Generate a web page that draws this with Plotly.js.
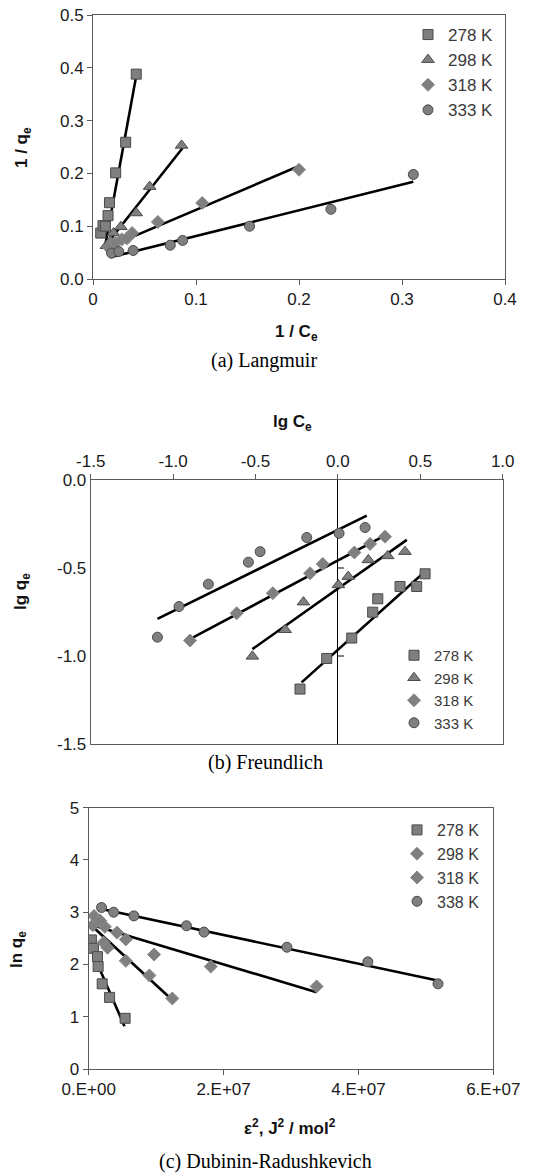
<!DOCTYPE html>
<html>
<head>
<meta charset="utf-8">
<script src="https://cdn.plot.ly/plotly-3.0.1.min.js"></script>
<style>
  html, body { margin: 0; padding: 0; background: #fff; }
  #chart { width: 538px; height: 1175px; }
</style>
</head>
<body>
<div id="chart"></div>
<script>
// ---------- series names ----------
const namesLF = ['278 K', '298 K', '318 K', '333 K'];
const namesDR = ['278 K', '298 K', '318 K', '338 K'];

// ---------- (a) Langmuir : 1/Ce vs 1/qe ----------
const lang278x = [0.0075, 0.0097, 0.012, 0.0146, 0.016, 0.022, 0.0317, 0.042];
const lang278y = [0.087, 0.101, 0.100, 0.120, 0.1445, 0.201, 0.259, 0.388];
const lang298x = [0.013, 0.017, 0.020, 0.027, 0.042, 0.055, 0.086];
const lang298y = [0.063, 0.072, 0.087, 0.099, 0.125, 0.175, 0.253];
const lang318x = [0.015, 0.022, 0.028, 0.033, 0.038, 0.063, 0.106, 0.200];
const lang318y = [0.060, 0.068, 0.075, 0.077, 0.087, 0.108, 0.144, 0.207];
const lang333x = [0.018, 0.025, 0.039, 0.075, 0.087, 0.152, 0.231, 0.311];
const lang333y = [0.049, 0.052, 0.054, 0.064, 0.073, 0.100, 0.132, 0.198];
// fitted lines (end points)
const langFit278x = [0.0113, 0.042], langFit278y = [0.058, 0.385];
const langFit298x = [0.0113, 0.087], langFit298y = [0.061, 0.248];
const langFit318x = [0.012, 0.200],  langFit318y = [0.058, 0.214];
const langFit333x = [0.0167, 0.311], langFit333y = [0.041, 0.184];

// ---------- (b) Freundlich : lg Ce vs lg qe ----------
const fr278x = [-0.23, -0.068, 0.084, 0.211, 0.242, 0.377, 0.478, 0.529];
const fr278y = [-1.188, -1.014, -0.898, -0.751, -0.675, -0.605, -0.605, -0.533];
const fr298x = [-0.519, -0.32, -0.209, 0.003, 0.063, 0.185, 0.302, 0.407];
const fr298y = [-1.002, -0.851, -0.694, -0.596, -0.549, -0.454, -0.431, -0.407];
const fr318x = [-0.897, -0.614, -0.395, -0.169, -0.092, 0.10, 0.195, 0.286];
const fr318y = [-0.912, -0.757, -0.643, -0.53, -0.477, -0.412, -0.363, -0.322];
const fr333x = [-1.095, -0.964, -0.786, -0.543, -0.472, -0.189, 0.007, 0.165];
const fr333y = [-0.893, -0.719, -0.592, -0.467, -0.407, -0.327, -0.303, -0.27];
const frFit278x = [-0.22, 0.529],  frFit278y = [-1.15, -0.52];
const frFit298x = [-0.519, 0.418], frFit298y = [-0.961, -0.34];
const frFit318x = [-0.907, 0.292], frFit318y = [-0.908, -0.312];
const frFit333x = [-1.095, 0.175], frFit333y = [-0.789, -0.202];
const frXTickVals = [-1.5, -1.0, -0.5, 0.0, 0.5, 1.0];
const frXTickText = ['-1.5', '-1.0', '-0.5', '0.0', '0.5', '1.0'];
const frYTickVals = [0.0, -0.5, -1.0, -1.5];
const frYTickText = ['0.0', '-0.5', '-1.0', '-1.5'];

// ---------- (c) Dubinin-Radushkevich : eps^2 vs ln qe ----------
const dr278x = [400000, 700000, 1300000, 1400000, 2000000, 3100000, 5400000];
const dr278y = [2.47, 2.31, 2.15, 1.96, 1.63, 1.37, 0.97];
const dr298x = [600000, 2200000, 2400000, 2800000, 5500000, 9000000, 12400000];
const dr298y = [2.75, 2.42, 2.72, 2.32, 2.07, 1.79, 1.35];
const dr318x = [800000, 1700000, 4200000, 5500000, 9700000, 18100000, 33800000];
const dr318y = [2.93, 2.84, 2.61, 2.48, 2.19, 1.96, 1.58];
const dr338x = [1900000, 3700000, 6700000, 14500000, 17100000, 29400000, 41400000, 51800000];
const dr338y = [3.09, 3.00, 2.93, 2.74, 2.62, 2.33, 2.05, 1.63];
const drFit278x = [200000, 5300000],  drFit278y = [2.34, 0.82];
const drFit298x = [200000, 12400000], drFit298y = [2.77, 1.32];
const drFit318x = [350000, 33800000], drFit318y = [2.76, 1.47];
const drFit338x = [1900000, 51900000], drFit338y = [3.06, 1.69];
const drXTickVals = [0, 20000000, 40000000, 60000000];
const drXTickText = ['0.E+00', '2.E+07', '4.E+07', '6.E+07'];

// ---------- styling ----------
const W = 538, H = 1175;
const FONT = 'Liberation Sans, Arial, sans-serif';
const SERIF = 'Liberation Serif, Times New Roman, serif';
const FILL = '#7f7f7f', EDGE = '#4a4a4a';
const px = v => v / W;
const py = v => 1 - v / H;

function pts(x, y, name, sym, size, xa, ya, leg, edge) {
  return {
    x: x, y: y, name: name, type: 'scatter', mode: 'markers',
    xaxis: xa, yaxis: ya, legend: leg,
    marker: { symbol: sym, size: size, color: FILL,
              line: { color: edge === undefined ? EDGE : edge, width: 1 } },
    hoverinfo: 'x+y'
  };
}
function fit(x, y, xa, ya) {
  return { x: x, y: y, type: 'scatter', mode: 'lines', xaxis: xa, yaxis: ya,
           showlegend: false, line: { color: '#000', width: 2.6 }, hoverinfo: 'skip' };
}

const traces = [
  // (a)
  fit(langFit278x, langFit278y, 'x', 'y'),
  fit(langFit298x, langFit298y, 'x', 'y'),
  fit(langFit318x, langFit318y, 'x', 'y'),
  fit(langFit333x, langFit333y, 'x', 'y'),
  pts(lang278x, lang278y, namesLF[0], 'square', 10, 'x', 'y', 'legend'),
  pts(lang298x, lang298y, namesLF[1], 'triangle-up', 11, 'x', 'y', 'legend'),
  pts(lang318x, lang318y, namesLF[2], 'diamond', 10, 'x', 'y', 'legend', '#8a8a8a'),
  pts(lang333x, lang333y, namesLF[3], 'circle', 10, 'x', 'y', 'legend'),
  // (b)
  fit(frFit278x, frFit278y, 'x2', 'y2'),
  fit(frFit298x, frFit298y, 'x2', 'y2'),
  fit(frFit318x, frFit318y, 'x2', 'y2'),
  fit(frFit333x, frFit333y, 'x2', 'y2'),
  pts(fr278x, fr278y, namesLF[0], 'square', 10, 'x2', 'y2', 'legend2'),
  pts(fr298x, fr298y, namesLF[1], 'triangle-up', 11, 'x2', 'y2', 'legend2'),
  pts(fr318x, fr318y, namesLF[2], 'diamond', 10, 'x2', 'y2', 'legend2', '#8a8a8a'),
  pts(fr333x, fr333y, namesLF[3], 'circle', 10, 'x2', 'y2', 'legend2'),
  // (c)
  fit(drFit278x, drFit278y, 'x3', 'y3'),
  fit(drFit298x, drFit298y, 'x3', 'y3'),
  fit(drFit318x, drFit318y, 'x3', 'y3'),
  fit(drFit338x, drFit338y, 'x3', 'y3'),
  pts(dr278x, dr278y, namesDR[0], 'square', 10, 'x3', 'y3', 'legend3'),
  pts(dr298x, dr298y, namesDR[1], 'diamond', 10, 'x3', 'y3', 'legend3', '#8a8a8a'),
  pts(dr318x, dr318y, namesDR[2], 'diamond', 10, 'x3', 'y3', 'legend3', '#8a8a8a'),
  pts(dr338x, dr338y, namesDR[3], 'circle', 10, 'x3', 'y3', 'legend3')
];

function axis(extra) {
  return Object.assign({
    showgrid: false, zeroline: false, showline: true, mirror: true,
    linecolor: '#5a5a5a', linewidth: 1,
    ticks: 'outside', ticklen: 5, tickwidth: 1, tickcolor: '#5a5a5a',
    tickfont: { family: FONT, size: 17, color: '#1a1a1a' },
    fixedrange: true
  }, extra);
}

function ann(text, x, y, opts) {
  return Object.assign({
    text: text, xref: 'paper', yref: 'paper', x: px(x), y: py(y),
    xanchor: 'center', yanchor: 'middle', showarrow: false,
    font: { family: FONT, size: 17, color: '#111' }
  }, opts || {});
}

function legendBox(x, y, size) {
  return {
    x: px(x), y: py(y), xref: 'paper', yref: 'paper',
    xanchor: 'left', yanchor: 'top',
    bgcolor: 'rgba(0,0,0,0)', borderwidth: 0,
    itemwidth: 30, tracegroupgap: 0,
    font: { family: FONT, size: size, color: '#3a3a3a' }
  };
}

// small tick marks on the vertical line at lg Ce = 0 in panel (b)
const zeroTicks = [-0.5, -1.0].map(v => ({
  type: 'line', xref: 'x2', yref: 'y2', xsizemode: 'pixel', xanchor: 0,
  x0: 0, x1: 6, y0: v, y1: v, line: { color: '#000', width: 1 }
}));

const layout = {
  width: W, height: H,
  margin: { l: 0, r: 0, t: 0, b: 0 },
  paper_bgcolor: '#fff', plot_bgcolor: '#fff',
  font: { family: FONT },
  showlegend: true,
  xaxis: axis({ domain: [px(93), px(505)], range: [0, 0.4], anchor: 'y',
                tickvals: [0, 0.1, 0.2, 0.3, 0.4] }),
  yaxis: axis({ domain: [py(279), py(15)], range: [0, 0.5], anchor: 'x',
                tickvals: [0, 0.1, 0.2, 0.3, 0.4, 0.5], tickformat: '.1f' }),
  xaxis2: axis({ domain: [px(90.7), px(502.7)], range: [-1.5, 1], anchor: 'y2', side: 'top',
                 tickvals: frXTickVals, ticktext: frXTickText,
                 zeroline: true, zerolinecolor: '#000', zerolinewidth: 1 }),
  yaxis2: axis({ domain: [py(744), py(480)], range: [-1.5, 0], anchor: 'x2', ticks: '',
                 tickvals: frYTickVals, ticktext: frYTickText }),
  xaxis3: axis({ domain: [px(88.7), px(493.3)], range: [0, 60000000], anchor: 'y3',
                 tickvals: drXTickVals, ticktext: drXTickText }),
  yaxis3: axis({ domain: [py(1069), py(807.7)], range: [0, 5], anchor: 'x3',
                 tickvals: [0, 1, 2, 3, 4, 5] }),
  legend: legendBox(408, 17, 17),
  legend2: legendBox(394, 639, 15),
  legend3: legendBox(397, 813, 16),
  shapes: zeroTicks,
  annotations: [
    ann('<b>1 / q<sub>e</sub></b>', 23, 148, { textangle: -90 }),
    ann('<b>1 / C<sub>e</sub></b>', 296, 333),
    ann('(a) Langmuir', 264, 360, { font: { family: SERIF, size: 20, color: '#000' } }),
    ann('<b>lg C<sub>e</sub></b>', 292, 423),
    ann('<b>lg q<sub>e</sub></b>', 22, 592, { textangle: -90 }),
    ann('(b) Freundlich', 265, 762, { font: { family: SERIF, size: 20, color: '#000' } }),
    ann('<b>ln q<sub>e</sub></b>', 18, 950, { textangle: -90 }),
    ann('<b>ε<sup>2</sup>, J<sup>2</sup> / mol<sup>2</sup></b>', 290, 1127),
    ann('(c) Dubinin-Radushkevich', 265, 1161, { font: { family: SERIF, size: 20, color: '#000' } })
  ]
};

Plotly.newPlot('chart', traces, layout, { displayModeBar: false, staticPlot: true });
</script>
</body>
</html>
